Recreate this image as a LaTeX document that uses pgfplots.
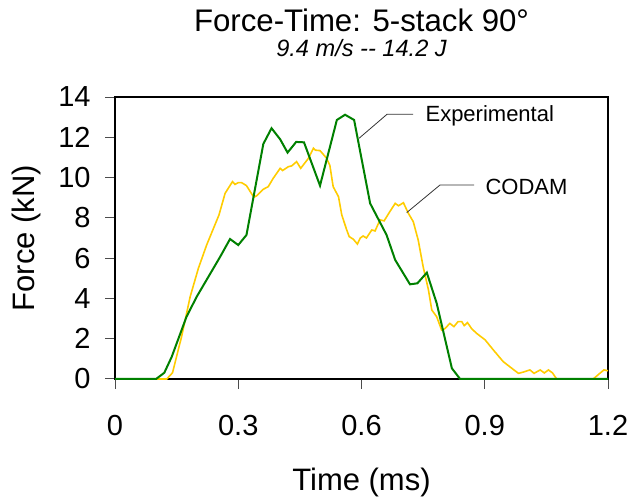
\documentclass[border=0pt]{standalone}
\usepackage{pgfplots}
\pgfplotsset{compat=1.18}
\usepackage{fontspec}
\setmainfont{Liberation Sans}
\definecolor{expgreen}{RGB}{0,128,0}
\definecolor{codamyellow}{RGB}{255,204,0}
\begin{document}
\begin{tikzpicture}
\begin{axis}[
  scale only axis,
  width=246.5pt, height=141pt,
  xmin=0, xmax=1.2, ymin=0, ymax=14,
  xtick={0,0.3,0.6,0.9,1.2},
  ytick={0,2,4,6,8,10,12,14},
  xticklabels={0,0.3,0.6,0.9,1.2},
  tick align=outside,
  xtick pos=bottom, ytick pos=left,
  major tick length=5pt,
  tick style={color=black!70, line width=0.5pt},
  axis line style={black, line width=0.6pt},
  /pgf/number format/assume math mode=true,
  ticklabel style={font=\fontsize{14.5}{16}\selectfont},
  yticklabel style={inner sep=0pt, anchor=east, xshift=-7pt},
  xticklabel style={inner sep=0pt, anchor=north, yshift=-13pt},
  clip=false,
  xlabel={Time (ms)}, ylabel={Force (kN)},
  every axis x label/.style={at={(axis description cs:0.5,-0.394)}, anchor=base, font=\fontsize{15.5}{18}\selectfont},
  every axis y label/.style={at={(axis description cs:-0.1805,0.5)}, rotate=90, anchor=center, font=\fontsize{15.5}{18}\selectfont},
]
\path (rel axis cs:-0.2333,-0.4043) rectangle (rel axis cs:1.0487,1.344);
\node[anchor=base, font=\fontsize{15.6}{18}\selectfont] at (rel axis cs:0.5,1.234) {Force-Time: 5-stack 90°};
\node[anchor=base, font=\fontsize{11.8}{13}\selectfont\itshape] at (rel axis cs:0.5,1.142) {9.4 m/s {-}{-} 14.2 J};

\addplot[codamyellow, line width=0.8pt] coordinates {
(0,0) (0.126,0) (0.140,0.31) (0.162,2.1) (0.183,4.09) (0.203,5.5) (0.223,6.65)
(0.253,8.14) (0.268,9.22) (0.286,9.8) (0.292,9.66) (0.300,9.75) (0.308,9.75) (0.320,9.6)
(0.338,9.02) (0.345,9.1) (0.361,9.42) (0.373,9.55) (0.385,9.96) (0.402,10.46) (0.408,10.35)
(0.422,10.54) (0.430,10.58) (0.442,10.79) (0.452,10.46) (0.471,10.96) (0.483,11.46)
(0.488,11.36) (0.499,11.34) (0.515,10.96) (0.523,10.6) (0.531,9.55) (0.544,9.05)
(0.552,8.14) (0.564,7.4) (0.570,7.07) (0.580,6.94) (0.590,6.70) (0.597,7.0) (0.604,7.1)
(0.612,7.0) (0.625,7.4) (0.633,7.35) (0.645,7.9) (0.655,7.85) (0.669,8.31) (0.682,8.72)
(0.690,8.6) (0.702,8.75) (0.714,8.23) (0.726,7.81) (0.738,6.9) (0.750,5.58) (0.763,4.42)
(0.771,3.43) (0.783,3.09) (0.795,2.43) (0.803,2.5) (0.815,2.76) (0.825,2.6) (0.835,2.85)
(0.844,2.85) (0.850,2.65) (0.858,2.8) (0.868,2.5) (0.880,2.27) (0.901,1.94) (0.921,1.44)
(0.945,0.86) (0.966,0.53) (0.982,0.28) (0.995,0.35) (1.010,0.45) (1.020,0.28)
(1.035,0.45) (1.045,0.3) (1.055,0.45) (1.065,0.3) (1.075,0.0) (1.164,0.0) (1.180,0.28)
(1.190,0.45) (1.2,0.41)
};
\addplot[expgreen, line width=1pt] coordinates {
(0,0) (0.100,0) (0.120,0.31) (0.138,1.1) (0.174,3.09) (0.199,4.09) (0.256,6.07)
(0.280,6.95) (0.300,6.65) (0.320,7.15) (0.361,11.67) (0.381,12.45) (0.402,11.9)
(0.420,11.24) (0.441,11.77) (0.460,11.75) (0.499,9.6) (0.540,12.86) (0.560,13.12)
(0.582,12.86) (0.621,8.72) (0.661,7.15) (0.682,5.91) (0.718,4.70) (0.736,4.75)
(0.759,5.28) (0.783,3.76) (0.820,0.53) (0.840,0) (1.2,0)
};

\draw[black!80, line width=0.4pt] (axis cs:0.7254,13.14) -- (axis cs:0.662,13.14) -- (axis cs:0.594,11.95);
\node[anchor=west, inner sep=0pt, font=\fontsize{11}{13}\selectfont] at (axis cs:0.755,13.05) {Experimental};
\draw[black!80, line width=0.4pt] (axis cs:0.874,9.63) -- (axis cs:0.791,9.63) -- (axis cs:0.710,8.26);
\node[anchor=west, inner sep=0pt, font=\fontsize{11}{13}\selectfont] at (axis cs:0.901,9.52) {CODAM};
\end{axis}
\end{tikzpicture}
\end{document}
